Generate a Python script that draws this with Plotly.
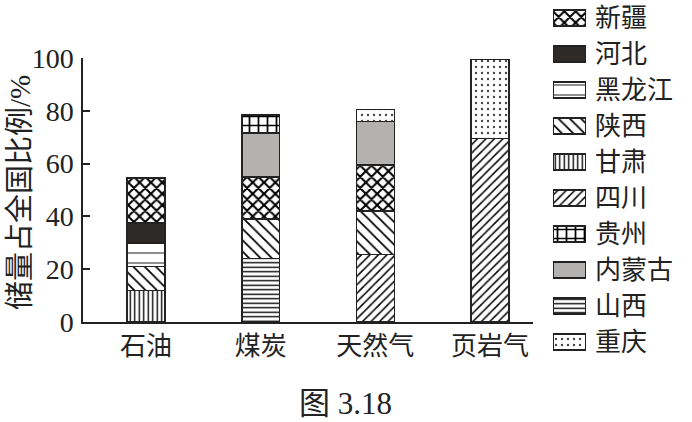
import plotly.graph_objects as go

categories = ["石油", "煤炭", "天然气", "页岩气"]

# stacking order (bottom to top)
gansu = [12, None, None, None]
shanxi = [None, 24, None, None]
sichuan = [None, None, 25.5, 69.5]
shaanxi = [9, 15, 16.5, None]
heilongjiang = [9, None, None, None]
hebei = [7.5, None, None, None]
xinjiang = [17, 16, 17.5, None]
neimenggu = [None, 16.5, 16.5, None]
guizhou = [None, 7, None, None]
chongqing = [None, None, 4.5, 30]

series = [
    ("甘肃", gansu),
    ("山西", shanxi),
    ("四川", sichuan),
    ("陕西", shaanxi),
    ("黑龙江", heilongjiang),
    ("河北", hebei),
    ("新疆", xinjiang),
    ("内蒙古", neimenggu),
    ("贵州", guizhou),
    ("重庆", chongqing),
]

legend_order = ["新疆", "河北", "黑龙江", "陕西", "甘肃", "四川", "贵州", "内蒙古", "山西", "重庆"]

y_title = "储量占全国比例/%"
caption = "图 3.18"

styles = {
    "新疆": dict(color="white", shape="x", size=8, solidity=0.45, fg="black"),
    "河北": dict(color="#2e2a28", shape="", size=8, solidity=0.3, fg="black"),
    "黑龙江": dict(color="white", shape="-", size=10, solidity=0.12, fg="#444"),
    "陕西": dict(color="white", shape="\\", size=8, solidity=0.22, fg="black"),
    "甘肃": dict(color="white", shape="|", size=4.5, solidity=0.3, fg="black"),
    "四川": dict(color="white", shape="/", size=6, solidity=0.25, fg="black"),
    "贵州": dict(color="white", shape="+", size=9, solidity=0.35, fg="black"),
    "内蒙古": dict(color="#b4b2b0", shape="", size=8, solidity=0.3, fg="black"),
    "山西": dict(color="white", shape="-", size=4.5, solidity=0.3, fg="black"),
    "重庆": dict(color="white", shape=".", size=6, solidity=0.12, fg="#444"),
}


def marker_for(name):
    s = styles[name]
    return dict(
        color=s["color"],
        line=dict(color="#222", width=1.5),
        pattern=dict(shape=s["shape"], size=s["size"], solidity=s["solidity"],
                     fgcolor=s["fg"], bgcolor=s["color"], fillmode="replace"),
    )


FONT = "Liberation Serif, Noto Sans CJK SC, serif"

fig = go.Figure()

for name, vals in series:
    fig.add_trace(go.Bar(
        x=categories, y=vals, name=name, width=0.33,
        marker=marker_for(name),
        showlegend=False, xaxis="x", yaxis="y",
    ))

# legend swatches as a separate small bar chart, one trace per region
for name in legend_order:
    fig.add_trace(go.Bar(
        x=[1], y=[name], orientation="h", width=0.45,
        marker=marker_for(name),
        showlegend=False, xaxis="x2", yaxis="y2", hoverinfo="skip",
    ))

pw = 692 - 83 - 106
ph = 422 - 62

fig.update_layout(
    template="none",
    width=692, height=422,
    margin=dict(l=83, r=106, t=0, b=62, autoexpand=False),
    paper_bgcolor="white", plot_bgcolor="white",
    barmode="stack",
    font=dict(family=FONT, size=26, color="#222"),
    xaxis=dict(
        domain=[0, 0.8946], range=[-0.55, 3.375], type="category",
        showline=True, linecolor="#222", linewidth=1.5,
        ticks="", showgrid=False, zeroline=False, automargin=False,
        tickfont=dict(size=26), anchor="y",
    ),
    yaxis=dict(
        domain=[0.1056, 0.8389], range=[0, 100],
        tickvals=[0, 20, 40, 60, 80, 100],
        showline=True, linecolor="#222", linewidth=1.5,
        ticks="inside", ticklen=7, tickwidth=1.5, tickcolor="#222",
        showgrid=False, zeroline=False, anchor="x", automargin=False,
        tickfont=dict(size=28), ticklabelstandoff=2,
    ),
    xaxis2=dict(
        domain=[0.9344, 1.0], range=[0, 1], visible=False, anchor="y2",
        automargin=False,
    ),
    yaxis2=dict(
        domain=[0, 1], type="category", categoryarray=legend_order,
        categoryorder="array",
        autorange="reversed", side="right", anchor="x2",
        showline=False, ticks="", showgrid=False, zeroline=False,
        tickfont=dict(size=26), ticklabelstandoff=8, automargin=False,
    ),
    annotations=[
        dict(text=y_title, x=(20 - 83) / pw, y=(360 - 193) / ph, textangle=-90,
             xref="paper", yref="paper", xanchor="center", yanchor="middle",
             showarrow=False, font=dict(size=29)),
        dict(text=caption, x=(345 - 83) / pw, y=(360 - 403) / ph,
             xref="paper", yref="paper", xanchor="center", yanchor="middle",
             showarrow=False, font=dict(size=31)),
    ],
)

fig.write_html("out.html", config={"displayModeBar": False},
               post_script="document.body.style.margin='0';")
